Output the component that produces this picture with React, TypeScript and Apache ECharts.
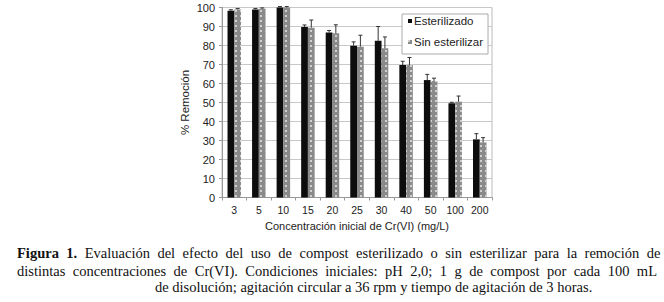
import React, { useEffect, useRef } from "react";
import * as echarts from "echarts";

const categories = ["3", "5", "10", "15", "20", "25", "30", "40", "50", "100", "200"];
const esterilizado = [98.3, 99, 100, 89.8, 86.9, 79.9, 82.5, 69.7, 61.8, 49.6, 30.6];
const sinEsterilizar = [99, 99.3, 100, 89.4, 86.4, 79.4, 78.5, 69.7, 61.3, 50.4, 29];
const errEsterilizado = [0.5, 0.5, 0.5, 1, 1, 2, 7.5, 2, 3, 0.5, 3];
const errSinEsterilizar = [0.5, 0.5, 0.5, 4, 4.5, 6, 6, 4, 1.5, 3, 2.5];
const yTicks = { min: 0, max: 100, interval: 10 };

const captionBold = "Figura 1.";
const captionLine1 = "Evaluación del efecto del uso de compost esterilizado o sin esterilizar para la remoción de";
const captionLine2 = "distintas concentraciones de Cr(VI). Condiciones iniciales: pH 2,0; 1 g de compost por cada 100 mL";
const captionLine3 = "de disolución; agitación circular a 36 rpm y tiempo de agitación de 3 horas.";

const CAT_GAP = 0.45;
const SERIF = "'Liberation Serif', 'Times New Roman', serif";
const CAP_SIZE = 14.5;

function errorSeries(name: string, values: number[], errs: number[], side: number) {
  return {
    type: "custom",
    name: name + "_err",
    silent: true,
    z: 5,
    data: values.map((v, i) => [i, v, v + errs[i]]),
    renderItem: (params: any, api: any) => {
      const idx = api.value(0);
      const base = api.coord([idx, api.value(1)]);
      const top = api.coord([idx, api.value(2)]);
      const catW = api.size([1, 0])[0];
      const barW = (catW * (1 - CAT_GAP)) / 2;
      const x = base[0] + side * (barW / 2);
      const cap = 2;
      return {
        type: "group",
        children: [
          { type: "line", shape: { x1: x, y1: base[1], x2: x, y2: top[1] }, style: { stroke: "#333", lineWidth: 1 } },
          { type: "line", shape: { x1: x - cap, y1: top[1], x2: x + cap, y2: top[1] }, style: { stroke: "#333", lineWidth: 1 } },
        ],
      };
    },
  };
}

// Lay out words of a line justified between x0 and x1
function justifiedLine(words: { t: string; bold?: boolean }[], x0: number, x1: number, y: number) {
  const canvas = document.createElement("canvas");
  const ctx = canvas.getContext("2d")!;
  const widths = words.map((w) => {
    ctx.font = `${w.bold ? "bold " : ""}${CAP_SIZE}px "Liberation Serif"`;
    return ctx.measureText(w.t).width;
  });
  const total = widths.reduce((a, b) => a + b, 0);
  const gap = (x1 - x0 - total) / (words.length - 1);
  let x = x0;
  return words.map((w, i) => {
    const el = {
      type: "text",
      x,
      y,
      style: {
        text: w.t,
        fontFamily: SERIF,
        fontSize: CAP_SIZE,
        fontWeight: w.bold ? "bold" : "normal",
        fill: "#111",
        verticalAlign: "middle",
      },
    };
    x += widths[i] + gap;
    return el;
  });
}

export default function App() {
  const ref = useRef<HTMLDivElement>(null);
  useEffect(() => {
    if (!ref.current) return;
    const chart = echarts.init(ref.current, null, { renderer: "svg" });
    const axisFont = { fontFamily: "Arial, 'Liberation Sans', sans-serif", color: "#222" };
    const line1Words = [
      ...captionBold.split(" ").map((t) => ({ t, bold: true })),
      ...captionLine1.split(" ").map((t) => ({ t })),
    ];
    const line2Words = captionLine2.split(" ").map((t) => ({ t }));
    chart.setOption({
      animation: false,
      backgroundColor: "#fff",
      grid: { left: 222, right: 172, top: 7.5, bottom: 104.5, show: true, borderColor: "#bbb", borderWidth: 1 },
      legend: {
        orient: "vertical",
        left: 402,
        top: 14,
        itemWidth: 4,
        itemHeight: 4,
        itemGap: 9,
        padding: [1, 5, 6, 6],
        backgroundColor: "#fff",
        borderColor: "#aaa",
        borderWidth: 1,
        textStyle: { ...axisFont, fontSize: 11.5, padding: [0, 0, 0, -3] },
        data: [
          { name: "Esterilizado", icon: "rect" },
          { name: "Sin esterilizar", icon: "rect" },
        ],
      },
      xAxis: {
        type: "category",
        data: categories,
        name: "Concentración inicial de Cr(VI) (mg/L)",
        nameLocation: "middle",
        nameGap: 19,
        nameTextStyle: { ...axisFont, fontSize: 11 },
        axisLine: { show: true, lineStyle: { color: "#999" } },
        axisTick: { show: true, length: 3, lineStyle: { color: "#999" } },
        axisLabel: { ...axisFont, fontSize: 10.5, margin: 7 },
        splitLine: { show: false },
      },
      yAxis: {
        type: "value",
        min: yTicks.min,
        max: yTicks.max,
        interval: yTicks.interval,
        name: "% Remoción",
        nameLocation: "middle",
        nameGap: 31,
        nameTextStyle: { ...axisFont, fontSize: 11.5 },
        axisLine: { show: true, lineStyle: { color: "#999" } },
        axisTick: { show: true, length: 3, lineStyle: { color: "#999" } },
        axisLabel: { ...axisFont, fontSize: 11, margin: 7 },
        splitLine: { show: true, lineStyle: { color: "#c8c8c8" } },
      },
      series: [
        {
          type: "bar",
          name: "Esterilizado",
          data: esterilizado,
          barGap: "0%",
          barCategoryGap: CAT_GAP * 100 + "%",
          itemStyle: { color: "#0d0d0d" },
        },
        {
          type: "bar",
          name: "Sin esterilizar",
          data: sinEsterilizar,
          barGap: "0%",
          barCategoryGap: CAT_GAP * 100 + "%",
          itemStyle: {
            color: "#8a8a8a",
            decal: {
              symbol: "rect",
              symbolSize: 1,
              color: "rgba(215,215,215,0.9)",
              dashArrayX: [2, 3],
              dashArrayY: [2, 3],
              rotation: 0,
            },
          },
        },
        errorSeries("Esterilizado", esterilizado, errEsterilizado, -1),
        errorSeries("Sin esterilizar", sinEsterilizar, errSinEsterilizar, 1),
      ],
      graphic: [
        ...justifiedLine(line1Words, 17, 660.5, 253),
        ...justifiedLine(line2Words, 17, 657, 270.5),
        {
          type: "text",
          x: 155,
          y: 287,
          style: {
            text: captionLine3,
            fontFamily: SERIF,
            fontSize: CAP_SIZE,
            fill: "#111",
            verticalAlign: "middle",
          },
        },
      ],
    });
    return () => chart.dispose();
  }, []);
  return <div ref={ref} style={{ position: "fixed", left: 0, top: 0, width: 664, height: 302 }} />;
}
